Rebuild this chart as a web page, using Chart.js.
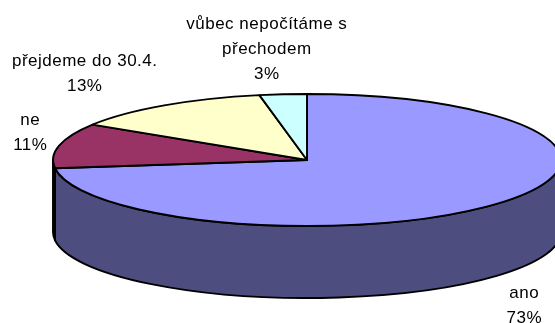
<!DOCTYPE html>
<html>
<head>
<meta charset="utf-8">
<script src="https://cdn.jsdelivr.net/npm/chart.js@4.4.1/dist/chart.umd.min.js"></script>
<style>
  html, body { margin: 0; padding: 0; background: #fff; }
  #wrap { width: 555px; height: 323px; }
</style>
</head>
<body>
<div id="wrap"><canvas id="myChart"></canvas></div>
<script>
// data
const categories = ['ano', 'ne', 'přejdeme do 30.4.', ['vůbec nepočítáme s', 'přechodem']]
const shares = [73, 11, 13, 3]
const topColors = ['#9999FF', '#993366', '#FFFFCC', '#CCFFFF']
const sideColors = ['#4D4D80', '#4D1A33', '#80806A', '#6A8080']

const TILT = 66 / 254   // vertical squash of the pie
const DEPTH = 72        // thickness of the pie in px
const FONT = '17px "Liberation Sans", Arial, sans-serif'
const LINE_H = 25

// 3d look: draw the arcs ourselves as ellipses with a side wall
const pie3d = {
    id: 'pie3d',
    beforeDatasetsDraw(chart) {
        const ctx = chart.ctx
        const arcs = chart.getDatasetMeta(0).data
        ctx.save()
        ctx.lineWidth = 1.9
        ctx.strokeStyle = '#000'
        ctx.lineJoin = 'round'

        // side wall, only the front half (0..PI) can be seen
        arcs.forEach(function (arc, i) {
            const a0 = Math.max(arc.startAngle, 0)
            const a1 = Math.min(arc.endAngle, Math.PI)
            if (a1 <= a0) return
            const r = arc.outerRadius
            ctx.beginPath()
            ctx.ellipse(arc.x, arc.y, r, r * TILT, 0, a0, a1)
            ctx.ellipse(arc.x, arc.y + DEPTH, r, r * TILT, 0, a1, a0, true)
            ctx.closePath()
            ctx.fillStyle = sideColors[i]
            ctx.fill()
            ctx.stroke()
        })

        // top faces
        arcs.forEach(function (arc, i) {
            const r = arc.outerRadius
            ctx.beginPath()
            ctx.moveTo(arc.x, arc.y)
            ctx.ellipse(arc.x, arc.y, r, r * TILT, 0, arc.startAngle, arc.endAngle)
            ctx.closePath()
            ctx.fillStyle = topColors[i]
            ctx.fill()
            ctx.stroke()
        })

        // labels outside the pie
        const total = shares.reduce((a, b) => a + b, 0)
        ctx.font = FONT
        ctx.letterSpacing = '0.5px'
        ctx.fillStyle = '#000'
        ctx.textAlign = 'center'
        ctx.textBaseline = 'middle'
        arcs.forEach(function (arc, i) {
            const mid = (arc.startAngle + arc.endAngle) / 2
            const ux = Math.cos(mid)
            const uy = Math.sin(mid)
            const r = arc.outerRadius
            const ex = arc.x + r * ux
            const ey = arc.y + r * TILT * uy + (uy > 0 ? DEPTH : 0)
            const lines = [].concat(categories[i])
            lines.push(Math.round(shares[i] / total * 100) + '%')
            let hw = 0
            lines.forEach(function (t) { hw = Math.max(hw, ctx.measureText(t).width / 2) })
            const hh = lines.length * LINE_H / 2
            const clamp = v => Math.max(-1, Math.min(1, v))
            const lx = ex + clamp(2 * ux) * hw + ux * 12
            const ly = ey + clamp(2 * uy) * hh + uy * 8
            lines.forEach(function (t, k) {
                ctx.fillText(t, lx, ly - hh + LINE_H / 2 + k * LINE_H)
            })
        })

        ctx.restore()
        return false
    }
}

new Chart(document.getElementById('myChart'), {
    type: 'pie',
    data: {
        labels: categories,
        datasets: [{
            data: shares,
            backgroundColor: topColors,
            borderColor: '#000',
            borderWidth: 0
        }]
    },
    options: {
        responsive: true,
        maintainAspectRatio: false,
        animation: false,
        radius: 254,
        layout: { padding: { left: 59, right: 0, top: 0, bottom: 3 } },
        plugins: {
            legend: { display: false },
            tooltip: { enabled: false }
        }
    },
    plugins: [pie3d]
})
</script>
</body>
</html>
